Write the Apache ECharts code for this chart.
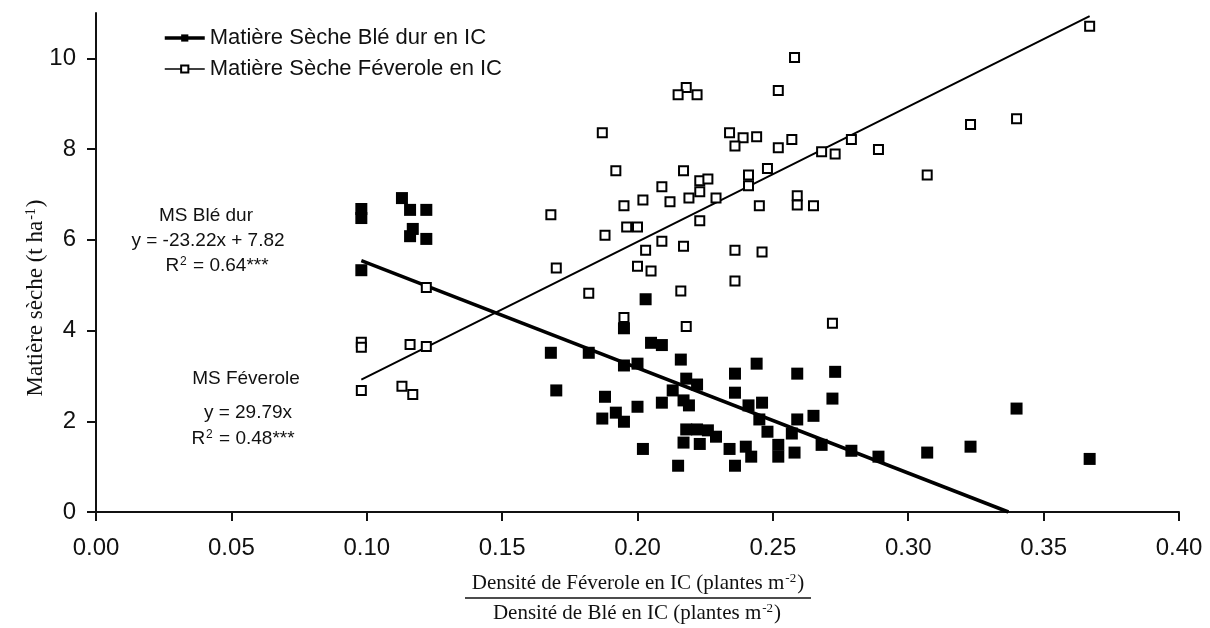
<!DOCTYPE html>
<html>
<head>
<meta charset="utf-8">
<script src="https://cdn.jsdelivr.net/npm/echarts@6/dist/echarts.min.js"></script>
<style>html,body{margin:0;padding:0;background:#fff;}#c{width:1210px;height:628px;}</style>
</head>
<body>
<div id="c"></div>
<script>
var xTicks = [0, 0.05, 0.10, 0.15, 0.20, 0.25, 0.30, 0.35, 0.40];
var yTicks = [0, 2, 4, 6, 8, 10];
var seriesNames = ['Matière Sèche Blé dur en IC', 'Matière Sèche Féverole en IC'];

var bleDurPoints = [[0.098,6.68],[0.098,6.48],[0.098,5.33],[0.113,6.92],[0.116,6.66],[0.122,6.66],[0.117,6.24],[0.116,6.08],[0.122,6.02],[0.203,4.69],[0.195,4.05],[0.168,3.51],[0.182,3.51],[0.195,3.23],[0.200,3.27],[0.205,3.73],[0.209,3.68],[0.216,3.36],[0.218,2.94],[0.222,2.81],[0.236,3.05],[0.236,2.63],[0.170,2.68],[0.213,2.68],[0.188,2.54],[0.209,2.41],[0.217,2.46],[0.219,2.35],[0.200,2.32],[0.192,2.19],[0.187,2.06],[0.195,1.99],[0.218,1.82],[0.222,1.82],[0.226,1.80],[0.229,1.66],[0.217,1.53],[0.223,1.50],[0.234,1.39],[0.202,1.39],[0.215,1.02],[0.236,1.02],[0.244,3.27],[0.259,3.05],[0.273,3.09],[0.272,2.50],[0.241,2.35],[0.246,2.41],[0.245,2.04],[0.259,2.04],[0.265,2.12],[0.248,1.77],[0.257,1.73],[0.252,1.48],[0.240,1.44],[0.242,1.22],[0.252,1.22],[0.258,1.31],[0.268,1.48],[0.279,1.35],[0.289,1.22],[0.307,1.31],[0.323,1.44],[0.340,2.28],[0.367,1.17]];

var feverolePoints = [[0.098,3.74],[0.098,3.63],[0.098,2.68],[0.116,3.69],[0.122,3.65],[0.113,2.77],[0.117,2.59],[0.122,4.95],[0.218,9.36],[0.215,9.20],[0.222,9.20],[0.187,8.36],[0.234,8.36],[0.239,8.25],[0.236,8.07],[0.192,7.52],[0.217,7.52],[0.223,7.30],[0.226,7.34],[0.223,7.06],[0.241,7.43],[0.241,7.19],[0.209,7.17],[0.202,6.88],[0.195,6.75],[0.212,6.84],[0.219,6.92],[0.229,6.92],[0.168,6.55],[0.196,6.28],[0.200,6.28],[0.188,6.10],[0.223,6.42],[0.209,5.97],[0.203,5.77],[0.217,5.86],[0.236,5.77],[0.170,5.38],[0.200,5.42],[0.205,5.31],[0.236,5.09],[0.182,4.82],[0.216,4.87],[0.195,4.29],[0.218,4.09],[0.367,10.71],[0.258,10.02],[0.252,9.29],[0.323,8.54],[0.340,8.67],[0.244,8.27],[0.257,8.21],[0.252,8.03],[0.279,8.21],[0.268,7.94],[0.273,7.89],[0.289,7.99],[0.248,7.57],[0.307,7.43],[0.245,6.75],[0.259,6.97],[0.259,6.77],[0.265,6.75],[0.246,5.73],[0.272,4.16]];

// regression lines (endpoints)
var bleDurTrend = [[0.098,5.54],[0.337,0]];
var feveroleTrend = [[0.098,2.92],[0.367,10.93]];

var chart = echarts.init(document.getElementById('c'), null, {renderer:'canvas'});
var sans = 'Liberation Sans, Arial, sans-serif';
var serif = 'Liberation Serif, Times New Roman, serif';

function supText(x, y, main, sup, tail, fam, size, supSize, rot) {
  return {type: 'text', x: x, y: y, rotation: rot || 0,
    style: {text: '{a|' + main + '}{s|' + sup + '}{a|' + tail + '}', align: 'center', verticalAlign: 'middle',
      rich: {a: {font: size + 'px ' + fam, fill: '#111'},
             s: {font: supSize + 'px ' + fam, fill: '#111', verticalAlign: 'top', padding: [0, 1, Math.round(size * 0.45), 1]}}}};
}

var option = {
  backgroundColor: '#fff',
  animation: false,
  grid: {left: 96, right: 31, top: 13, bottom: 116},
  legend: {
    orient: 'vertical', left: 158, top: 22, itemWidth: 40, itemHeight: 9, itemGap: 9,
    textStyle: {fontFamily: sans, fontSize: 22, color: '#111'},
    data: [
      {name: seriesNames[0], lineStyle: {width: 3.5}},
      {name: seriesNames[1], lineStyle: {width: 1.5}}
    ]
  },
  xAxis: {
    type: 'value', min: 0, max: 0.4, interval: 0.05,
    splitLine: {show: false},
    axisLine: {onZero: false, lineStyle: {color: '#111', width: 2}},
    axisTick: {length: 9, lineStyle: {color: '#111', width: 2}},
    axisLabel: {fontFamily: sans, fontSize: 24, color: '#111', margin: 24,
      formatter: function(v){ return v.toFixed(2); }}
  },
  yAxis: {
    type: 'value', min: 0, max: 11,
    splitLine: {show: false},
    axisLine: {show: true, lineStyle: {color: '#111', width: 2}},
    axisTick: {show: true, length: 9, customValues: yTicks, lineStyle: {color: '#111', width: 2}},
    axisLabel: {fontFamily: sans, fontSize: 24, color: '#111', margin: 20, customValues: yTicks}
  },
  series: [
    {name: seriesNames[0], type: 'line', data: bleDurTrend, symbol: 'rect', symbolSize: 9, showSymbol: false,
     lineStyle: {color: '#000', width: 3.5}, itemStyle: {color: '#000'}, z: 3, silent: true},
    {name: seriesNames[1], type: 'line', data: feveroleTrend, symbol: 'rect', symbolSize: 9, showSymbol: false,
     lineStyle: {color: '#000', width: 2}, itemStyle: {color: '#fff', borderColor: '#000', borderWidth: 1.5}, z: 3, silent: true},
    {name: seriesNames[0], type: 'scatter', data: bleDurPoints, symbol: 'rect', symbolSize: 12,
     itemStyle: {color: '#000', opacity: 1}, z: 4},
    {name: seriesNames[1], type: 'scatter', data: feverolePoints, symbol: 'rect', symbolSize: 9,
     itemStyle: {color: '#fff', borderColor: '#000', borderWidth: 2, opacity: 1}, z: 5}
  ],
  graphic: [
    {type: 'text', x: 206, y: 216, style: {text: 'MS Blé dur', font: '19px ' + sans, fill: '#111', align: 'center', verticalAlign: 'middle'}},
    {type: 'text', x: 208, y: 241, style: {text: 'y = -23.22x + 7.82', font: '19px ' + sans, fill: '#111', align: 'center', verticalAlign: 'middle'}},
    supText(217, 266, 'R', '2', ' = 0.64***', sans, 19, 12),
    {type: 'text', x: 246, y: 379, style: {text: 'MS Féverole', font: '19px ' + sans, fill: '#111', align: 'center', verticalAlign: 'middle'}},
    {type: 'text', x: 248, y: 413, style: {text: 'y = 29.79x', font: '19px ' + sans, fill: '#111', align: 'center', verticalAlign: 'middle'}},
    supText(243, 439, 'R', '2', ' = 0.48***', sans, 19, 12),
    supText(36, 298, 'Matière sèche (t ha', '-1', ')', serif, 23, 14, Math.PI / 2),
    supText(638, 583, 'Densité de Féverole en IC (plantes m', '-2', ')', serif, 21, 13),
    {type: 'line', shape: {x1: 465, y1: 598, x2: 811, y2: 598}, style: {stroke: '#111', lineWidth: 1.5}},
    supText(637, 613, 'Densité de Blé en IC (plantes m', '-2', ')', serif, 21, 13)
  ]
};
chart.setOption(option);
</script>
</body>
</html>
